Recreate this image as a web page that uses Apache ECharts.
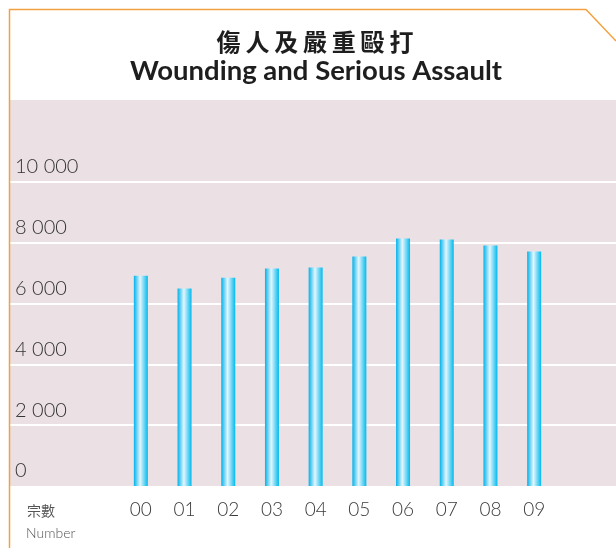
<!DOCTYPE html>
<html><head><meta charset="utf-8">
<script src="https://cdn.jsdelivr.net/npm/echarts@6/dist/echarts.min.js"></script>
<style>html,body{margin:0;padding:0;background:#fff}#c{width:616px;height:548px}</style>
</head><body><div id="c"></div>
<script>
const categories = ['00','01','02','03','04','05','06','07','08','09'];
const values = [6910, 6490, 6850, 7150, 7180, 7545, 8140, 8105, 7910, 7710];
const yTicks = [0, 2000, 4000, 6000, 8000, 10000];
const titleZh = '傷人及嚴重毆打';
const titleEn = 'Wounding and Serious Assault';
const unitZh = '宗數';
const unitEn = 'Number';

const chart = echarts.init(document.getElementById('c'), null, {renderer:'canvas'});
const fmt = v => yTicks.includes(v) ? String(v).replace(/\B(?=(\d{3})+(?!\d))/g, ' ') : '';
const barGrad = new echarts.graphic.LinearGradient(0,0,1,0,[
  {offset:0,color:'#00b2ea'},{offset:0.45,color:'#e3f6fd'},{offset:1,color:'#00baed'}]);
chart.setOption({
  animation:false,
  graphic:[
    {type:'rect',shape:{x:10,y:100,width:606,height:386},style:{fill:'#ebe1e4'},z:-10},
    {type:'polyline',shape:{points:[[9.5,548],[9.5,9.5],[586,9.5],[616,41]]},style:{stroke:'#f4a040',lineWidth:1.5,fill:null},z:10},
    {type:'text',x:315,y:42,style:{text:titleZh.split('').join('\u2009'),font:'bold 24px "Noto Sans CJK TC"',fill:'#1e1e1e',align:'center',verticalAlign:'middle'}},
    {type:'text',x:316,y:71,style:{text:titleEn,font:'bold 27.5px Lato',fill:'#1e1e1e',align:'center',verticalAlign:'middle'}},
    {type:'text',x:27,y:511,style:{text:unitZh,font:'14px "Noto Sans CJK TC"',fill:'#555',align:'left',verticalAlign:'middle'}},
    {type:'text',x:26,y:533,style:{text:unitEn,font:'300 14px Lato',fill:'#555',align:'left',verticalAlign:'middle'}}
  ],
  grid:[
    {left:10,right:0,top:121,bottom:62},
    {left:119,right:60,top:121,bottom:62}
  ],
  xAxis:[
    {gridIndex:0,type:'value',show:false},
    {gridIndex:1,type:'category',data:categories,axisLine:{show:false},axisTick:{show:false},
     axisLabel:{margin:14,fontFamily:'Lato',fontWeight:300,fontSize:19,color:'#3a3a3a'}}
  ],
  yAxis:[
    {gridIndex:0,type:'value',min:0,max:12000,interval:2000,axisLine:{show:false},axisTick:{show:false},
     splitLine:{show:true,showMinLine:false,showMaxLine:false,lineStyle:{color:'#ffffff',width:2}},
     axisLabel:{inside:true,margin:5,verticalAlign:'bottom',padding:[0,0,5,0],fontFamily:'Lato',fontWeight:300,fontSize:20,color:'#333',formatter:fmt,showMaxLabel:false}},
    {gridIndex:1,type:'value',min:0,max:12000,interval:2000,show:false,splitLine:{show:false}}
  ],
  series:[{type:'bar',xAxisIndex:1,yAxisIndex:1,data:values,barWidth:14,itemStyle:{color:barGrad}}]
});
</script></body></html>
